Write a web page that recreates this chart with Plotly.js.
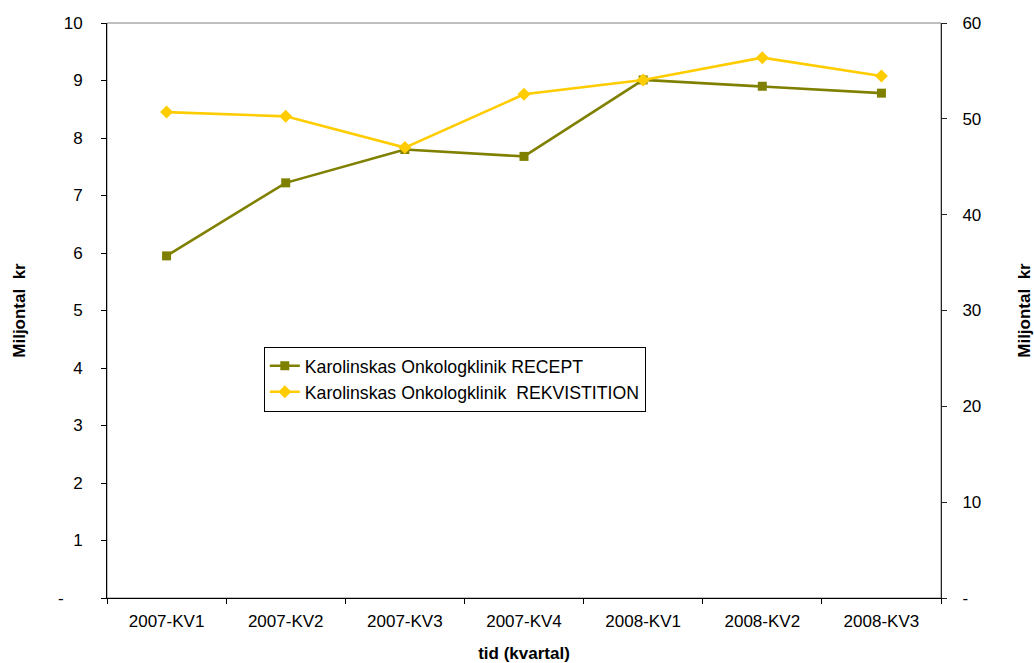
<!DOCTYPE html>
<html>
<head>
<meta charset="utf-8">
<script src="https://cdn.plot.ly/plotly-3.0.1.min.js"></script>
<style>html,body{margin:0;padding:0;background:#fff;}#chart{width:1034px;height:663px;}</style>
</head>
<body>
<div id="chart"></div>
<script>
const categories = ["2007-KV1","2007-KV2","2007-KV3","2007-KV4","2008-KV1","2008-KV2","2008-KV3"];
const recept = [5.95, 7.22, 7.8, 7.68, 9.01, 8.9, 8.78];
const rekvisition = [50.7, 50.26, 47.0, 52.56, 54.05, 56.38, 54.47];
const leftTickVals = [0,1,2,3,4,5,6,7,8,9,10];
const leftTickText = ["-\u00a0\u00a0\u00a0\u00a0","1","2","3","4","5","6","7","8","9","10"];
const rightTickVals = [0,10,20,30,40,50,60];
const rightTickText = ["-","10","20","30","40","50","60"];

const fam = "Liberation Sans, Arial, sans-serif";
const tickFont = {family: fam, size: 17, color: "#000"};
const titleFont = {family: fam, size: 17, color: "#000"};

const traces = [
  {x: categories, y: recept, name: "Karolinskas Onkologklinik RECEPT", type: "scatter", mode: "lines+markers",
   line: {color: "#808000", width: 2.6}, marker: {symbol: "square", size: 9, color: "#808000"}, yaxis: "y"},
  {x: categories, y: rekvisition, name: "Karolinskas Onkologklinik  REKVISTITION", type: "scatter", mode: "lines+markers",
   line: {color: "#FFCC00", width: 2.6}, marker: {symbol: "diamond", size: 10, color: "#FFCC00"}, yaxis: "y2"}
];

const boundaryVals = categories.map((c, i) => i - 0.5).concat([categories.length - 0.5]);

const layout = {
  width: 1034, height: 663,
  margin: {l: 107, r: 93, t: 23, b: 65},
  paper_bgcolor: "#fff", plot_bgcolor: "#fff",
  font: {family: fam, size: 17, color: "#000"},
  showlegend: true,
  legend: {x: 0.188, y: 0.437, xanchor: "left", yanchor: "top", bordercolor: "#000", borderwidth: 1,
           bgcolor: "#fff", font: {family: fam, size: 17.7, color: "#000"}, tracegroupgap: 0},
  xaxis: {type: "category", showgrid: false, showline: true, linecolor: "#000", linewidth: 1,
          ticks: "outside", ticklen: 5, tickcolor: "#000", tickson: "boundaries",
          tickfont: tickFont, range: [-0.5, 6.5], ticklabelstandoff: 8, automargin: false,
          title: {text: "<b>tid (kvartal)</b>", font: titleFont, standoff: 18}},
  xaxis2: {type: "linear", overlaying: "x", side: "bottom", anchor: "y", range: [-0.5, 6.5],
           tickvals: boundaryVals, showticklabels: false, ticks: "inside", ticklen: 4, tickcolor: "#000",
           showgrid: false, zeroline: false, showline: false},
  yaxis: {range: [0, 10], tickvals: leftTickVals, ticktext: leftTickText, showgrid: false, zeroline: false,
          showline: true, linecolor: "#000", linewidth: 1, ticks: "outside", ticklen: 5, tickcolor: "#000",
          tickfont: tickFont, ticklabelstandoff: 15, automargin: false,
          title: {text: "<b>Miljontal&nbsp;&nbsp;kr</b>", font: titleFont, standoff: 28}},
  yaxis3: {range: [0, 10], overlaying: "y", side: "left", anchor: "x", tickvals: leftTickVals,
           showticklabels: false, ticks: "inside", ticklen: 7, tickcolor: "#000",
           showgrid: false, zeroline: false, showline: false},
  yaxis2: {range: [0, 60], tickvals: rightTickVals, ticktext: rightTickText, overlaying: "y", side: "right",
           showgrid: false, zeroline: false, showline: true, linecolor: "#222", linewidth: 1,
           ticks: "outside", ticklen: 5, tickcolor: "#222", tickfont: tickFont,
           ticklabelstandoff: 12, automargin: false,
           title: {text: "<b>Miljontal&nbsp;&nbsp;kr</b>", font: titleFont, standoff: 47}},
  yaxis4: {range: [0, 60], overlaying: "y", side: "right", anchor: "x", tickvals: rightTickVals,
           showticklabels: false, ticks: "inside", ticklen: 5, tickcolor: "#222",
           showgrid: false, zeroline: false, showline: false},
  shapes: [{type: "rect", xref: "paper", yref: "paper", x0: 0, x1: 1, y0: 0, y1: 1,
            line: {color: "#808080", width: 1}, layer: "below"}]
};

Plotly.newPlot("chart", traces, layout, {displayModeBar: false, staticPlot: true});
</script>
</body>
</html>
